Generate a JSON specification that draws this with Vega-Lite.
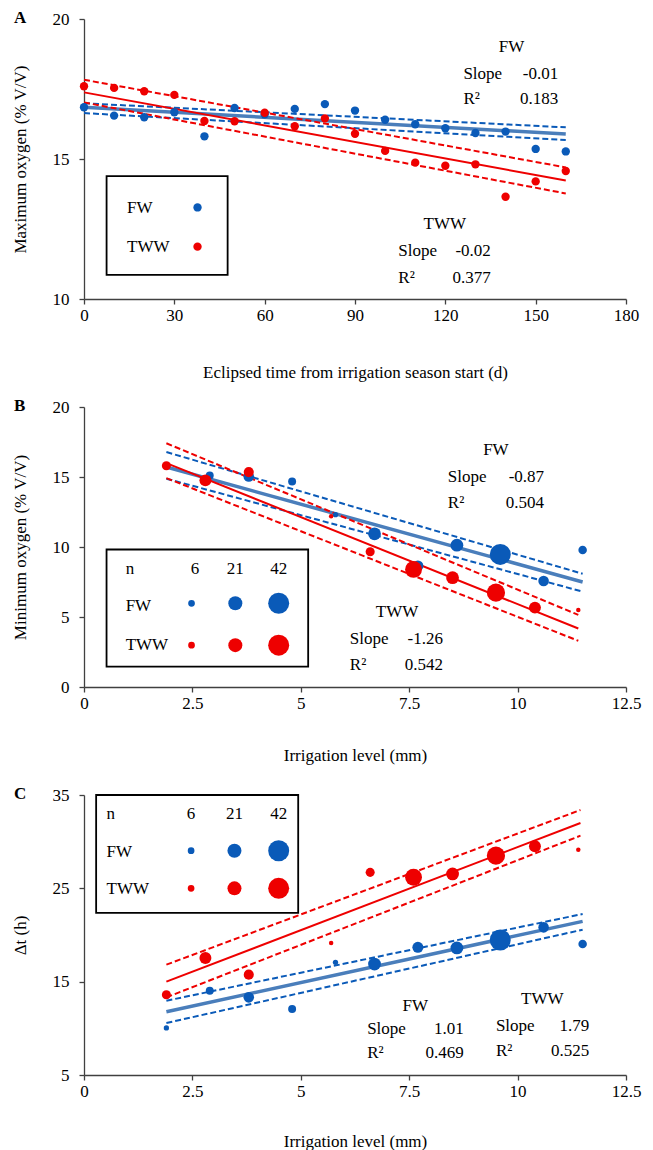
{
"$schema":"https://vega.github.io/schema/vega-lite/v6.json",
"padding":{"left":11,"top":9,"right":5,"bottom":5},
"background":"white",
"bounds":"flush",
"spacing":108,
"config":{
 "font":"'Liberation Serif', 'Times New Roman', 'DejaVu Serif', serif",
 "view":{"stroke":null},
 "axis":{"grid":false,"domainColor":"#404040","domainWidth":1.3,"tickColor":"#404040","tickWidth":1.3,"tickSize":5,"labelFont":"'Liberation Serif', 'Times New Roman', 'DejaVu Serif', serif","labelFontSize":17,"labelColor":"black","titleFont":"'Liberation Serif', 'Times New Roman', 'DejaVu Serif', serif","titleFontSize":17,"titleFontWeight":"normal","titleColor":"black","labelFlush":false,"labelOverlap":false},
 "axisX":{"labelPadding":3,"titlePadding":41},
 "axisY":{"labelPadding":10,"titlePadding":23},
 "text":{"font":"'Liberation Serif', 'Times New Roman', 'DejaVu Serif', serif","fontSize":17,"baseline":"middle","color":"black"},
 "circle":{"opacity":1},
 "title":{"font":"'Liberation Serif', 'Times New Roman', 'DejaVu Serif', serif","fontSize":17,"fontWeight":"bold","color":"black","anchor":"start","frame":"bounds","offset":-17,"baseline":"middle","dx":3}
},
"datasets":{
 "aPts":[
  {"day":0,"group":"FW","oxygen":16.85},{"day":10,"group":"FW","oxygen":16.55},{"day":20,"group":"FW","oxygen":16.49},{"day":30,"group":"FW","oxygen":16.67},{"day":40,"group":"FW","oxygen":15.81},{"day":50,"group":"FW","oxygen":16.82},{"day":60,"group":"FW","oxygen":16.6},{"day":70,"group":"FW","oxygen":16.79},{"day":80,"group":"FW","oxygen":16.96},{"day":90,"group":"FW","oxygen":16.73},{"day":100,"group":"FW","oxygen":16.4},{"day":110,"group":"FW","oxygen":16.24},{"day":120,"group":"FW","oxygen":16.1},{"day":130,"group":"FW","oxygen":15.93},{"day":140,"group":"FW","oxygen":15.98},{"day":150,"group":"FW","oxygen":15.36},{"day":160,"group":"FW","oxygen":15.27},
  {"day":0,"group":"TWW","oxygen":17.6},{"day":10,"group":"TWW","oxygen":17.54},{"day":20,"group":"TWW","oxygen":17.42},{"day":30,"group":"TWW","oxygen":17.29},{"day":40,"group":"TWW","oxygen":16.36},{"day":50,"group":"TWW","oxygen":16.35},{"day":60,"group":"TWW","oxygen":16.65},{"day":70,"group":"TWW","oxygen":16.17},{"day":80,"group":"TWW","oxygen":16.45},{"day":90,"group":"TWW","oxygen":15.9},{"day":100,"group":"TWW","oxygen":15.29},{"day":110,"group":"TWW","oxygen":14.87},{"day":120,"group":"TWW","oxygen":14.76},{"day":130,"group":"TWW","oxygen":14.81},{"day":140,"group":"TWW","oxygen":13.65},{"day":150,"group":"TWW","oxygen":14.2},{"day":160,"group":"TWW","oxygen":14.57}
 ],
 "aLines":[
  {"group":"FW","kind":"fit","day":0,"oxygen":16.85},{"group":"FW","kind":"fit","day":160,"oxygen":15.89},
  {"group":"FW","kind":"upper","day":0,"oxygen":16.99},{"group":"FW","kind":"upper","day":160,"oxygen":16.13},
  {"group":"FW","kind":"lower","day":0,"oxygen":16.64},{"group":"FW","kind":"lower","day":160,"oxygen":15.68},
  {"group":"TWW","kind":"fit","day":0,"oxygen":17.38},{"group":"TWW","kind":"fit","day":160,"oxygen":14.23},
  {"group":"TWW","kind":"upper","day":0,"oxygen":17.83},{"group":"TWW","kind":"upper","day":160,"oxygen":14.7},
  {"group":"TWW","kind":"lower","day":0,"oxygen":17.02},{"group":"TWW","kind":"lower","day":160,"oxygen":13.77}
 ],
 "bPts":[
  {"level":1.9,"group":"FW","oxygen":15.71,"n":4},{"level":2.9,"group":"FW","oxygen":15.11,"n":8},{"level":3.8,"group":"FW","oxygen":15.04,"n":13},{"level":4.8,"group":"FW","oxygen":14.68,"n":8},{"level":5.8,"group":"FW","oxygen":12.31,"n":4},{"level":6.7,"group":"FW","oxygen":10.94,"n":18},{"level":7.7,"group":"FW","oxygen":8.65,"n":14},{"level":8.6,"group":"FW","oxygen":10.13,"n":18},{"level":9.6,"group":"FW","oxygen":9.47,"n":42},{"level":10.6,"group":"FW","oxygen":7.57,"n":13},{"level":11.5,"group":"FW","oxygen":9.78,"n":9},
  {"level":1.9,"group":"TWW","oxygen":15.8,"n":10},{"level":2.8,"group":"TWW","oxygen":14.76,"n":16},{"level":3.8,"group":"TWW","oxygen":15.35,"n":12},{"level":5.7,"group":"TWW","oxygen":12.19,"n":3},{"level":6.6,"group":"TWW","oxygen":9.66,"n":10},{"level":7.6,"group":"TWW","oxygen":8.4,"n":29},{"level":8.5,"group":"TWW","oxygen":7.81,"n":18},{"level":9.5,"group":"TWW","oxygen":6.74,"n":33},{"level":10.4,"group":"TWW","oxygen":5.67,"n":16},{"level":11.4,"group":"TWW","oxygen":5.5,"n":3}
 ],
 "bLines":[
  {"group":"FW","kind":"fit","level":1.9,"oxygen":15.71},{"group":"FW","kind":"fit","level":11.5,"oxygen":7.5},
  {"group":"FW","kind":"upper","level":1.9,"oxygen":16.78},{"group":"FW","kind":"upper","level":11.5,"oxygen":8.09},
  {"group":"FW","kind":"lower","level":1.9,"oxygen":14.88},{"group":"FW","kind":"lower","level":11.5,"oxygen":6.81},
  {"group":"TWW","kind":"fit","level":1.9,"oxygen":15.99},{"group":"TWW","kind":"fit","level":11.4,"oxygen":4.18},
  {"group":"TWW","kind":"upper","level":1.9,"oxygen":17.41},{"group":"TWW","kind":"upper","level":11.4,"oxygen":5.15},
  {"group":"TWW","kind":"lower","level":1.9,"oxygen":14.92},{"group":"TWW","kind":"lower","level":11.4,"oxygen":3.3}
 ],
 "cPts":[
  {"level":1.9,"group":"FW","dt":10.04,"n":4},{"level":2.9,"group":"FW","dt":14.03,"n":8},{"level":3.8,"group":"FW","dt":13.32,"n":13},{"level":4.8,"group":"FW","dt":12.07,"n":8},{"level":5.8,"group":"FW","dt":17.07,"n":4},{"level":6.7,"group":"FW","dt":16.89,"n":18},{"level":7.7,"group":"FW","dt":18.68,"n":14},{"level":8.6,"group":"FW","dt":18.61,"n":18},{"level":9.6,"group":"FW","dt":19.46,"n":42},{"level":10.6,"group":"FW","dt":20.82,"n":13},{"level":11.5,"group":"FW","dt":19.03,"n":9},
  {"level":1.9,"group":"TWW","dt":13.6,"n":10},{"level":2.8,"group":"TWW","dt":17.54,"n":16},{"level":3.8,"group":"TWW","dt":15.75,"n":12},{"level":5.7,"group":"TWW","dt":19.14,"n":3},{"level":6.6,"group":"TWW","dt":26.71,"n":10},{"level":7.6,"group":"TWW","dt":26.18,"n":29},{"level":8.5,"group":"TWW","dt":26.54,"n":18},{"level":9.5,"group":"TWW","dt":28.5,"n":33},{"level":10.4,"group":"TWW","dt":29.5,"n":16},{"level":11.4,"group":"TWW","dt":29.14,"n":3}
 ],
 "cLines":[
  {"group":"FW","kind":"fit","level":1.9,"dt":11.78},{"group":"FW","kind":"fit","level":11.5,"dt":21.46},
  {"group":"FW","kind":"upper","level":1.9,"dt":12.96},{"group":"FW","kind":"upper","level":11.5,"dt":22.25},
  {"group":"FW","kind":"lower","level":1.9,"dt":10.57},{"group":"FW","kind":"lower","level":11.5,"dt":20.57},
  {"group":"TWW","kind":"fit","level":1.9,"dt":15.0},{"group":"TWW","kind":"fit","level":11.45,"dt":32.0},
  {"group":"TWW","kind":"upper","level":1.9,"dt":16.82},{"group":"TWW","kind":"upper","level":11.45,"dt":33.39},
  {"group":"TWW","kind":"lower","level":1.9,"dt":13.32},{"group":"TWW","kind":"lower","level":11.45,"dt":30.64}
 ]
},
"vconcat":[
 {
  "width":542,"height":280,
  "title":"A",
  "layer":[
   {"data":{"name":"aLines"},"transform":[{"filter":"datum.group === 'FW' && datum.kind !== 'fit'"}],
    "mark":{"type":"line","color":"#0A5AB8","strokeWidth":2,"strokeDash":[6,3]},
    "encoding":{
     "x":{"field":"day","type":"quantitative","scale":{"domain":[0,180],"nice":false},"axis":{"title":"Eclipsed time from irrigation season start (d)","values":[0,30,60,90,120,150,180],"format":"d"}},
     "y":{"field":"oxygen","type":"quantitative","scale":{"domain":[10,20],"nice":false,"zero":false},"axis":{"title":"Maximum oxygen (% V/V)","values":[10,15,20],"format":"d"}},
     "detail":{"field":"kind"}}},
   {"data":{"name":"aLines"},"transform":[{"filter":"datum.group === 'FW' && datum.kind === 'fit'"}],
    "mark":{"type":"line","color":"#4A7EBB","strokeWidth":3.5},
    "encoding":{"x":{"field":"day","type":"quantitative"},"y":{"field":"oxygen","type":"quantitative"}}},
   {"data":{"name":"aLines"},"transform":[{"filter":"datum.group === 'TWW' && datum.kind !== 'fit'"}],
    "mark":{"type":"line","color":"#EE0000","strokeWidth":2,"strokeDash":[6,3]},
    "encoding":{"x":{"field":"day","type":"quantitative"},"y":{"field":"oxygen","type":"quantitative"},"detail":{"field":"kind"}}},
   {"data":{"name":"aLines"},"transform":[{"filter":"datum.group === 'TWW' && datum.kind === 'fit'"}],
    "mark":{"type":"line","color":"#EE0000","strokeWidth":2},
    "encoding":{"x":{"field":"day","type":"quantitative"},"y":{"field":"oxygen","type":"quantitative"}}},
   {"data":{"name":"aPts"},"mark":{"type":"circle","size":70},
    "encoding":{"x":{"field":"day","type":"quantitative"},"y":{"field":"oxygen","type":"quantitative"},
     "color":{"field":"group","type":"nominal","scale":{"domain":["FW","TWW"],"range":["#0A5AB8","#EE0000"]},"legend":null}}},
   {"data":{"values":[{}]},"mark":{"type":"rect","fill":"white","stroke":"black","strokeWidth":1.8},"encoding":{"x":{"datum":7.5},"x2":{"datum":47.7},"y":{"datum":14.39},"y2":{"datum":10.86}}},
   {"data":{"values":[{}]},"mark":{"type":"text","align":"left"},"encoding":{"x":{"datum":14.3},"y":{"datum":13.24},"text":{"value":"FW"}}},
   {"data":{"values":[{}]},"mark":{"type":"text","align":"left"},"encoding":{"x":{"datum":14.3},"y":{"datum":11.85},"text":{"value":"TWW"}}},
   {"data":{"values":[{}]},"mark":{"type":"circle","size":70},"encoding":{"x":{"datum":37.7},"y":{"datum":13.27},"color":{"datum":"FW"}}},
   {"data":{"values":[{}]},"mark":{"type":"circle","size":70},"encoding":{"x":{"datum":37.7},"y":{"datum":11.87},"color":{"datum":"TWW"}}},
   {"data":{"values":[{}]},"mark":{"type":"text","align":"center"},"encoding":{"x":{"datum":142},"y":{"datum":19.0},"text":{"value":"FW"}}},
   {"data":{"values":[{}]},"mark":{"type":"text","align":"left"},"encoding":{"x":{"datum":126},"y":{"datum":18.04},"text":{"value":"Slope"}}},
   {"data":{"values":[{}]},"mark":{"type":"text","align":"right"},"encoding":{"x":{"datum":157.5},"y":{"datum":18.04},"text":{"value":"-0.01"}}},
   {"data":{"values":[{}]},"mark":{"type":"text","align":"left"},"encoding":{"x":{"datum":126},"y":{"datum":17.14},"text":{"value":"R²"}}},
   {"data":{"values":[{}]},"mark":{"type":"text","align":"right"},"encoding":{"x":{"datum":157.5},"y":{"datum":17.14},"text":{"value":"0.183"}}},
   {"data":{"values":[{}]},"mark":{"type":"text","align":"center"},"encoding":{"x":{"datum":119.8},"y":{"datum":12.68},"text":{"value":"TWW"}}},
   {"data":{"values":[{}]},"mark":{"type":"text","align":"left"},"encoding":{"x":{"datum":104.4},"y":{"datum":11.7},"text":{"value":"Slope"}}},
   {"data":{"values":[{}]},"mark":{"type":"text","align":"right"},"encoding":{"x":{"datum":135.1},"y":{"datum":11.7},"text":{"value":"-0.02"}}},
   {"data":{"values":[{}]},"mark":{"type":"text","align":"left"},"encoding":{"x":{"datum":104.4},"y":{"datum":10.75},"text":{"value":"R²"}}},
   {"data":{"values":[{}]},"mark":{"type":"text","align":"right"},"encoding":{"x":{"datum":135.1},"y":{"datum":10.75},"text":{"value":"0.377"}}}
  ]
 },
 {
  "width":542,"height":280,
  "title":"B",
  "layer":[
   {"data":{"name":"bLines"},"transform":[{"filter":"datum.group === 'FW' && datum.kind !== 'fit'"}],
    "mark":{"type":"line","color":"#0A5AB8","strokeWidth":2,"strokeDash":[6,3]},
    "encoding":{
     "x":{"field":"level","type":"quantitative","scale":{"domain":[0,12.5],"nice":false},"axis":{"title":"Irrigation level (mm)","titlePadding":36,"values":[0,2.5,5,7.5,10,12.5],"format":".1~f"}},
     "y":{"field":"oxygen","type":"quantitative","scale":{"domain":[0,20],"nice":false},"axis":{"title":"Minimum oxygen  (% V/V)","values":[0,5,10,15,20],"format":"d"}},
     "detail":{"field":"kind"}}},
   {"data":{"name":"bLines"},"transform":[{"filter":"datum.group === 'FW' && datum.kind === 'fit'"}],
    "mark":{"type":"line","color":"#4A7EBB","strokeWidth":3.5},
    "encoding":{"x":{"field":"level","type":"quantitative"},"y":{"field":"oxygen","type":"quantitative"}}},
   {"data":{"name":"bLines"},"transform":[{"filter":"datum.group === 'TWW' && datum.kind !== 'fit'"}],
    "mark":{"type":"line","color":"#EE0000","strokeWidth":2,"strokeDash":[6,3]},
    "encoding":{"x":{"field":"level","type":"quantitative"},"y":{"field":"oxygen","type":"quantitative"},"detail":{"field":"kind"}}},
   {"data":{"name":"bLines"},"transform":[{"filter":"datum.group === 'TWW' && datum.kind === 'fit'"}],
    "mark":{"type":"line","color":"#EE0000","strokeWidth":2},
    "encoding":{"x":{"field":"level","type":"quantitative"},"y":{"field":"oxygen","type":"quantitative"}}},
   {"data":{"name":"bPts"},"mark":{"type":"circle"},
    "encoding":{"x":{"field":"level","type":"quantitative"},"y":{"field":"oxygen","type":"quantitative"},
     "size":{"field":"n","type":"quantitative","scale":{"type":"pow","exponent":1.17,"domain":[0,42],"range":[0,441]},"legend":null},
     "color":{"field":"group","type":"nominal","scale":{"domain":["FW","TWW"],"range":["#0A5AB8","#EE0000"]},"legend":null}}},
   {"data":{"values":[{}]},"mark":{"type":"rect","fill":"white","stroke":"black","strokeWidth":1.8},"encoding":{"x":{"datum":0.52},"x2":{"datum":5.17},"y":{"datum":9.82},"y2":{"datum":1.45}}},
   {"data":{"values":[{}]},"mark":{"type":"text","align":"left"},"encoding":{"x":{"datum":0.96},"y":{"datum":8.45},"text":{"value":"n"}}},
   {"data":{"values":[{}]},"mark":{"type":"text","align":"center"},"encoding":{"x":{"datum":2.56},"y":{"datum":8.45},"text":{"value":"6"}}},
   {"data":{"values":[{}]},"mark":{"type":"text","align":"center"},"encoding":{"x":{"datum":3.49},"y":{"datum":8.45},"text":{"value":"21"}}},
   {"data":{"values":[{}]},"mark":{"type":"text","align":"center"},"encoding":{"x":{"datum":4.49},"y":{"datum":8.45},"text":{"value":"42"}}},
   {"data":{"values":[{}]},"mark":{"type":"text","align":"left"},"encoding":{"x":{"datum":0.96},"y":{"datum":5.79},"text":{"value":"FW"}}},
   {"data":{"values":[{}]},"mark":{"type":"text","align":"left"},"encoding":{"x":{"datum":0.96},"y":{"datum":2.99},"text":{"value":"TWW"}}},
   {"data":{"values":[{}]},"mark":{"type":"circle"},"encoding":{"x":{"datum":2.48},"y":{"datum":5.98},"size":{"datum":6},"color":{"datum":"FW"}}},
   {"data":{"values":[{}]},"mark":{"type":"circle"},"encoding":{"x":{"datum":3.49},"y":{"datum":5.98},"size":{"datum":21},"color":{"datum":"FW"}}},
   {"data":{"values":[{}]},"mark":{"type":"circle"},"encoding":{"x":{"datum":4.49},"y":{"datum":5.98},"size":{"datum":42},"color":{"datum":"FW"}}},
   {"data":{"values":[{}]},"mark":{"type":"circle"},"encoding":{"x":{"datum":2.48},"y":{"datum":2.99},"size":{"datum":6},"color":{"datum":"TWW"}}},
   {"data":{"values":[{}]},"mark":{"type":"circle"},"encoding":{"x":{"datum":3.49},"y":{"datum":2.99},"size":{"datum":21},"color":{"datum":"TWW"}}},
   {"data":{"values":[{}]},"mark":{"type":"circle"},"encoding":{"x":{"datum":4.49},"y":{"datum":2.99},"size":{"datum":42},"color":{"datum":"TWW"}}},
   {"data":{"values":[{}]},"mark":{"type":"text","align":"center"},"encoding":{"x":{"datum":9.5},"y":{"datum":16.94},"text":{"value":"FW"}}},
   {"data":{"values":[{}]},"mark":{"type":"text","align":"left"},"encoding":{"x":{"datum":8.39},"y":{"datum":14.97},"text":{"value":"Slope"}}},
   {"data":{"values":[{}]},"mark":{"type":"text","align":"right"},"encoding":{"x":{"datum":10.61},"y":{"datum":14.97},"text":{"value":"-0.87"}}},
   {"data":{"values":[{}]},"mark":{"type":"text","align":"left"},"encoding":{"x":{"datum":8.39},"y":{"datum":13.15},"text":{"value":"R²"}}},
   {"data":{"values":[{}]},"mark":{"type":"text","align":"right"},"encoding":{"x":{"datum":10.61},"y":{"datum":13.15},"text":{"value":"0.504"}}},
   {"data":{"values":[{}]},"mark":{"type":"text","align":"center"},"encoding":{"x":{"datum":7.22},"y":{"datum":5.39},"text":{"value":"TWW"}}},
   {"data":{"values":[{}]},"mark":{"type":"text","align":"left"},"encoding":{"x":{"datum":6.13},"y":{"datum":3.42},"text":{"value":"Slope"}}},
   {"data":{"values":[{}]},"mark":{"type":"text","align":"right"},"encoding":{"x":{"datum":8.28},"y":{"datum":3.42},"text":{"value":"-1.26"}}},
   {"data":{"values":[{}]},"mark":{"type":"text","align":"left"},"encoding":{"x":{"datum":6.13},"y":{"datum":1.59},"text":{"value":"R²"}}},
   {"data":{"values":[{}]},"mark":{"type":"text","align":"right"},"encoding":{"x":{"datum":8.28},"y":{"datum":1.59},"text":{"value":"0.542"}}}
  ]
 },
 {
  "width":542,"height":280,
  "title":"C",
  "layer":[
   {"data":{"name":"cLines"},"transform":[{"filter":"datum.group === 'FW' && datum.kind !== 'fit'"}],
    "mark":{"type":"line","color":"#0A5AB8","strokeWidth":2,"strokeDash":[6,3]},
    "encoding":{
     "x":{"field":"level","type":"quantitative","scale":{"domain":[0,12.5],"nice":false},"axis":{"title":"Irrigation level (mm)","titlePadding":34,"values":[0,2.5,5,7.5,10,12.5],"format":".1~f"}},
     "y":{"field":"dt","type":"quantitative","scale":{"domain":[5,35],"nice":false,"zero":false},"axis":{"title":"Δt (h)","values":[5,15,25,35],"format":"d"}},
     "detail":{"field":"kind"}}},
   {"data":{"name":"cLines"},"transform":[{"filter":"datum.group === 'FW' && datum.kind === 'fit'"}],
    "mark":{"type":"line","color":"#4A7EBB","strokeWidth":3.5},
    "encoding":{"x":{"field":"level","type":"quantitative"},"y":{"field":"dt","type":"quantitative"}}},
   {"data":{"name":"cLines"},"transform":[{"filter":"datum.group === 'TWW' && datum.kind !== 'fit'"}],
    "mark":{"type":"line","color":"#EE0000","strokeWidth":2,"strokeDash":[6,3]},
    "encoding":{"x":{"field":"level","type":"quantitative"},"y":{"field":"dt","type":"quantitative"},"detail":{"field":"kind"}}},
   {"data":{"name":"cLines"},"transform":[{"filter":"datum.group === 'TWW' && datum.kind === 'fit'"}],
    "mark":{"type":"line","color":"#EE0000","strokeWidth":2},
    "encoding":{"x":{"field":"level","type":"quantitative"},"y":{"field":"dt","type":"quantitative"}}},
   {"data":{"name":"cPts"},"mark":{"type":"circle"},
    "encoding":{"x":{"field":"level","type":"quantitative"},"y":{"field":"dt","type":"quantitative"},
     "size":{"field":"n","type":"quantitative","scale":{"type":"pow","exponent":1.17,"domain":[0,42],"range":[0,441]},"legend":null},
     "color":{"field":"group","type":"nominal","scale":{"domain":["FW","TWW"],"range":["#0A5AB8","#EE0000"]},"legend":null}}},
   {"data":{"values":[{}]},"mark":{"type":"rect","fill":"white","stroke":"black","strokeWidth":1.8},"encoding":{"x":{"datum":0.28},"x2":{"datum":4.94},"y":{"datum":35},"y2":{"datum":22.36}}},
   {"data":{"values":[{}]},"mark":{"type":"text","align":"left"},"encoding":{"x":{"datum":0.52},"y":{"datum":32.96},"text":{"value":"n"}}},
   {"data":{"values":[{}]},"mark":{"type":"text","align":"center"},"encoding":{"x":{"datum":2.47},"y":{"datum":32.96},"text":{"value":"6"}}},
   {"data":{"values":[{}]},"mark":{"type":"text","align":"center"},"encoding":{"x":{"datum":3.47},"y":{"datum":32.96},"text":{"value":"21"}}},
   {"data":{"values":[{}]},"mark":{"type":"text","align":"center"},"encoding":{"x":{"datum":4.49},"y":{"datum":32.96},"text":{"value":"42"}}},
   {"data":{"values":[{}]},"mark":{"type":"text","align":"left"},"encoding":{"x":{"datum":0.52},"y":{"datum":28.86},"text":{"value":"FW"}}},
   {"data":{"values":[{}]},"mark":{"type":"text","align":"left"},"encoding":{"x":{"datum":0.52},"y":{"datum":24.93},"text":{"value":"TWW"}}},
   {"data":{"values":[{}]},"mark":{"type":"circle"},"encoding":{"x":{"datum":2.47},"y":{"datum":29.03},"size":{"datum":6},"color":{"datum":"FW"}}},
   {"data":{"values":[{}]},"mark":{"type":"circle"},"encoding":{"x":{"datum":3.47},"y":{"datum":29.03},"size":{"datum":21},"color":{"datum":"FW"}}},
   {"data":{"values":[{}]},"mark":{"type":"circle"},"encoding":{"x":{"datum":4.49},"y":{"datum":29.03},"size":{"datum":42},"color":{"datum":"FW"}}},
   {"data":{"values":[{}]},"mark":{"type":"circle"},"encoding":{"x":{"datum":2.47},"y":{"datum":25.0},"size":{"datum":6},"color":{"datum":"TWW"}}},
   {"data":{"values":[{}]},"mark":{"type":"circle"},"encoding":{"x":{"datum":3.47},"y":{"datum":25.0},"size":{"datum":21},"color":{"datum":"TWW"}}},
   {"data":{"values":[{}]},"mark":{"type":"circle"},"encoding":{"x":{"datum":4.49},"y":{"datum":25.0},"size":{"datum":42},"color":{"datum":"TWW"}}},
   {"data":{"values":[{}]},"mark":{"type":"text","align":"center"},"encoding":{"x":{"datum":7.64},"y":{"datum":12.43},"text":{"value":"FW"}}},
   {"data":{"values":[{}]},"mark":{"type":"text","align":"left"},"encoding":{"x":{"datum":6.53},"y":{"datum":9.93},"text":{"value":"Slope"}}},
   {"data":{"values":[{}]},"mark":{"type":"text","align":"right"},"encoding":{"x":{"datum":8.76},"y":{"datum":9.93},"text":{"value":"1.01"}}},
   {"data":{"values":[{}]},"mark":{"type":"text","align":"left"},"encoding":{"x":{"datum":6.53},"y":{"datum":7.36},"text":{"value":"R²"}}},
   {"data":{"values":[{}]},"mark":{"type":"text","align":"right"},"encoding":{"x":{"datum":8.76},"y":{"datum":7.36},"text":{"value":"0.469"}}},
   {"data":{"values":[{}]},"mark":{"type":"text","align":"center"},"encoding":{"x":{"datum":10.57},"y":{"datum":13.14},"text":{"value":"TWW"}}},
   {"data":{"values":[{}]},"mark":{"type":"text","align":"left"},"encoding":{"x":{"datum":9.5},"y":{"datum":10.21},"text":{"value":"Slope"}}},
   {"data":{"values":[{}]},"mark":{"type":"text","align":"right"},"encoding":{"x":{"datum":11.65},"y":{"datum":10.21},"text":{"value":"1.79"}}},
   {"data":{"values":[{}]},"mark":{"type":"text","align":"left"},"encoding":{"x":{"datum":9.5},"y":{"datum":7.61},"text":{"value":"R²"}}},
   {"data":{"values":[{}]},"mark":{"type":"text","align":"right"},"encoding":{"x":{"datum":11.65},"y":{"datum":7.61},"text":{"value":"0.525"}}}
  ]
 }
]
}
